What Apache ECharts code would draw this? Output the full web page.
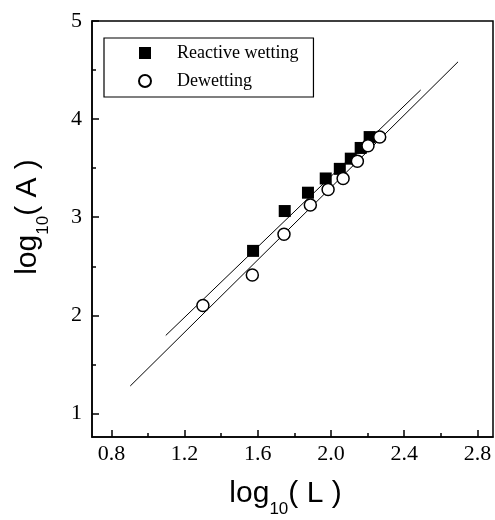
<!DOCTYPE html>
<html>
<head>
<meta charset="utf-8">
<script src="https://cdn.jsdelivr.net/npm/echarts@6/dist/echarts.min.js"></script>
<style>
  html, body { margin: 0; padding: 0; background: #fff; }
  #chart { width: 495px; height: 520px; }
</style>
</head>
<body>
<div id="chart"></div>
<script>
// ---- data ----
const wettingL = [1.574, 1.747, 1.874, 1.971, 2.048, 2.108, 2.162, 2.211]
const wettingA = [2.657, 3.063, 3.250, 3.395, 3.493, 3.597, 3.706, 3.817]
const dewettingL = [1.300, 1.570, 1.743, 1.887, 1.984, 2.066, 2.144, 2.202, 2.266]
const dewettingA = [2.100, 2.411, 2.827, 3.124, 3.283, 3.394, 3.570, 3.729, 3.817]

// fitted lines (end points)
const wettingFitL = [1.097, 2.490]
const wettingFitA = [1.795, 4.297]
const dewettingFitL = [0.903, 2.694]
const dewettingFitA = [1.280, 4.584]

// axes
const xMajorTicks = [0.8, 1.2, 1.6, 2.0, 2.4, 2.8]
const xMinorTicks = [1.0, 1.4, 1.8, 2.2, 2.6]
const yMajorTicks = [1, 2, 3, 4, 5]
const yMinorTicks = [1.5, 2.5, 3.5, 4.5]

const zip = (xs, ys) => xs.map((x, i) => [x, ys[i]])

const serif = 'Liberation Serif'
const sans = 'Liberation Sans'

// log10 with a lowered subscript
const titleRich = {
  t: { fontFamily: sans, fontSize: 30, color: '#000', verticalAlign: 'top' },
  s: { fontFamily: sans, fontSize: 17, color: '#000', verticalAlign: 'top', padding: [22, 0, 0, 0] },
}

const XMIN = 0.694, XMAX = 2.885, YMIN = 0.76, YMAX = 5

function mainAxis(kind, major, fmt) {
  return {
    type: 'value',
    min: kind === 'x' ? XMIN : YMIN,
    max: kind === 'x' ? XMAX : YMAX,
    position: kind === 'x' ? 'bottom' : 'left',
    axisLine: { show: true, onZero: false, lineStyle: { color: '#000', width: 1.5 } },
    splitLine: { show: false },
    axisTick: { show: true, inside: true, length: 7, customValues: major, lineStyle: { color: '#000', width: 1.5 } },
    axisLabel: {
      customValues: major,
      formatter: fmt,
      margin: kind === 'x' ? 6 : 10,
      fontFamily: serif, fontSize: 22, color: '#000',
    },
  }
}

function minorAxis(kind, minor) {
  return {
    type: 'value',
    min: kind === 'x' ? XMIN : YMIN,
    max: kind === 'x' ? XMAX : YMAX,
    position: kind === 'x' ? 'bottom' : 'left',
    axisLine: { show: false },
    splitLine: { show: false },
    axisTick: { show: true, inside: true, length: 4, customValues: minor, lineStyle: { color: '#000', width: 1.5 } },
    axisLabel: { show: false },
  }
}

const xMain = mainAxis('x', xMajorTicks, v => v.toFixed(1))
xMain.name = '{t|log}{s|10}{t|( L )}'
xMain.nameLocation = 'middle'
xMain.nameGap = 42
xMain.nameTextStyle = { rich: titleRich, padding: [0, 14, 0, 0] }

const yMain = mainAxis('y', yMajorTicks, v => String(v))
yMain.name = '{t|log}{s|10}{t|( A )}'
yMain.nameLocation = 'middle'
yMain.nameRotate = 90
yMain.nameGap = 40
yMain.nameTextStyle = { rich: titleRich, padding: [0, 0, 0, 24] }

const chart = echarts.init(document.getElementById('chart'), null, { renderer: 'canvas' })

const option = {
  animation: false,
  backgroundColor: '#fff',
  grid: {
    left: 92, right: 2, top: 21, bottom: 83,
    outerBoundsMode: 'none',
    containLabel: false,
    show: true, borderColor: '#000', borderWidth: 1.5, backgroundColor: 'transparent',
  },
  legend: {
    orient: 'vertical',
    left: 104, top: 38,
    padding: [6, 15, 7, 34],
    itemGap: 10,
    itemWidth: 12, itemHeight: 12,
    borderColor: '#000', borderWidth: 1.2,
    textStyle: { fontFamily: serif, fontSize: 18, color: '#000', lineHeight: 18, padding: [0, 0, 0, 21] },
    data: ['Reactive wetting', 'Dewetting'],
  },
  xAxis: [xMain, minorAxis('x', xMinorTicks)],
  yAxis: [yMain, minorAxis('y', yMinorTicks)],
  series: [
    {
      type: 'line', data: zip(wettingFitL, wettingFitA), symbol: 'none', silent: true,
      lineStyle: { color: '#000', width: 1 }, z: 1,
    },
    {
      type: 'line', data: zip(dewettingFitL, dewettingFitA), symbol: 'none', silent: true,
      lineStyle: { color: '#000', width: 1 }, z: 1,
    },
    {
      name: 'Reactive wetting', type: 'scatter', symbol: 'rect', symbolSize: 12,
      data: zip(wettingL, wettingA),
      itemStyle: { color: '#000', opacity: 1 }, z: 3,
    },
    {
      name: 'Dewetting', type: 'scatter', symbol: 'circle', symbolSize: 12,
      data: zip(dewettingL, dewettingA),
      itemStyle: { color: '#fff', borderColor: '#000', borderWidth: 1.5, opacity: 1 }, z: 4,
    },
  ],
}

chart.setOption(option)
</script>
</body>
</html>
